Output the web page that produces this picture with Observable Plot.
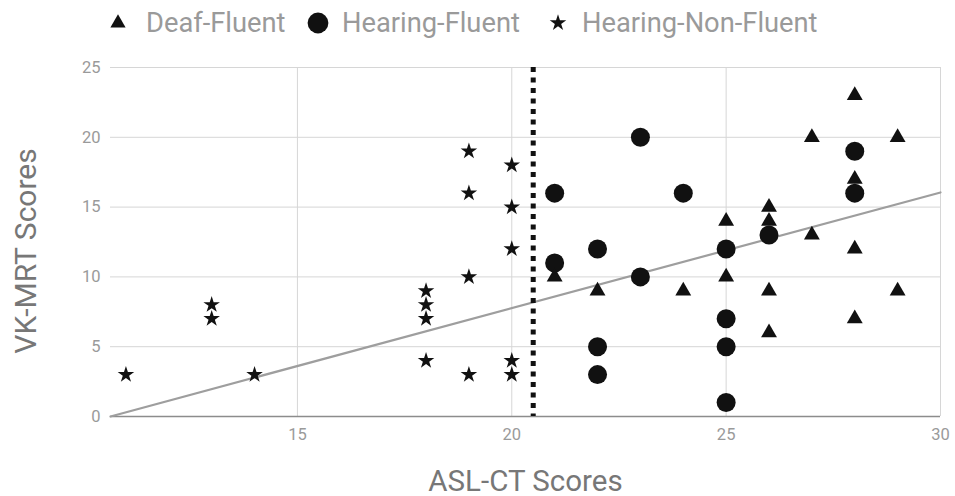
<!DOCTYPE html>
<html>
<head>
<meta charset="utf-8">
<script src="https://cdn.jsdelivr.net/npm/d3@7"></script>
<script src="https://cdn.jsdelivr.net/npm/@observablehq/plot@0.6"></script>
<style>
  html, body { margin: 0; padding: 0; background: #ffffff; }
  body { width: 955px; height: 496px; overflow: hidden; font-family: Roboto, "Noto Sans", sans-serif; }
  #legend { position: relative; height: 45px; width: 955px; }
  .item { position: absolute; top: 0; height: 45px; display: flex; align-items: center; }
  .item span { font-size: 27.3px; color: #9a9a9a; line-height: 1; }
  .sym { position: absolute; top: 0; }
</style>
</head>
<body>
<div id="legend"></div>
<div id="chart"></div>
<script>
// ---- Data ----
const seriesNames = ["Deaf-Fluent", "Hearing-Fluent", "Hearing-Non-Fluent"];

const deafFluentX = [21, 22, 24, 25, 25, 26, 26, 26, 26, 27, 27, 28, 28, 28, 28, 29, 29];
const deafFluentY = [10,  9,  9, 14, 10, 15, 14,  9,  6, 20, 13, 23, 17, 12,  7, 20,  9];

const hearingFluentX = [21, 21, 22, 22, 22, 23, 23, 24, 25, 25, 25, 25, 26, 28, 28];
const hearingFluentY = [16, 11, 12,  5,  3, 20, 10, 16, 12,  7,  5,  1, 13, 19, 16];

const hearingNonFluentX = [11, 13, 13, 14, 18, 18, 18, 18, 19, 19, 19, 19, 20, 20, 20, 20, 20];
const hearingNonFluentY = [ 3,  8,  7,  3,  9,  8,  7,  4, 19, 16, 10,  3, 18, 15, 12,  4,  3];

const trendX = [10.64, 30];
const trendY = [0, 16.05];

const cutoffX = [20.5];

const xTicks = [15, 20, 25, 30];
const yTicks = [0, 5, 10, 15, 20, 25];
const xDomain = [10.64, 30];
const yDomain = [0, 25];

const xTitle = "ASL-CT Scores";
const yTitle = "VK-MRT Scores";

// ---- Build tables ----
const toRows = (xs, ys) => xs.map((x, i) => ({x, y: ys[i]}));
const deaf = toRows(deafFluentX, deafFluentY);
const hearF = toRows(hearingFluentX, hearingFluentY);
const hearNF = toRows(hearingNonFluentX, hearingNonFluentY);
const trend = toRows(trendX, trendY);

const font = "Roboto, 'Noto Sans', sans-serif";

const chart = Plot.plot({
  width: 955,
  height: 451,
  marginTop: 22,
  marginBottom: 80,
  marginLeft: 110,
  marginRight: 15,
  style: {fontFamily: font, background: "#ffffff", overflow: "visible"},
  x: {domain: xDomain, ticks: xTicks},
  y: {domain: yDomain, ticks: yTicks},
  marks: [
    Plot.gridX(xTicks, {stroke: "#d6d6d6", strokeOpacity: 1, strokeWidth: 1}),
    Plot.gridY(yTicks.filter(d => d > 0), {stroke: "#d6d6d6", strokeOpacity: 1, strokeWidth: 1}),
    Plot.ruleY([0], {stroke: "#8c8c8c", strokeWidth: 1.5}),
    Plot.axisX(xTicks, {tickSize: 0, tickPadding: 12, fontSize: 16.5, fill: "#9a9a9a", label: null}),
    Plot.axisY(yTicks, {tickSize: 0, tickPadding: 10, fontSize: 16.5, fill: "#9a9a9a", label: null}),
    Plot.line(trend, {x: "x", y: "y", stroke: "#9e9e9e", strokeWidth: 2.2}),
    Plot.ruleX(cutoffX, {stroke: "#111", strokeWidth: 5, strokeDasharray: "5,5.5"}),
    Plot.dot(hearNF, {x: "x", y: "y", symbol: "star", r: 5.2, fill: "#111", stroke: "none"}),
    Plot.dot(hearF, {x: "x", y: "y", symbol: "circle", r: 9.5, fill: "#111", stroke: "none"}),
    Plot.dot(deaf, {x: "x", y: "y", symbol: "triangle", r: 5.9, fill: "#111", stroke: "none"}),
    Plot.text([xTitle], {frameAnchor: "bottom", lineAnchor: "middle", dy: 65, fontSize: 29.5, fill: "#777777", fontFamily: font}),
    Plot.text([yTitle], {frameAnchor: "left", textAnchor: "middle", lineAnchor: "middle", rotate: -90, dx: -84, dy: 9, fontSize: 30, fill: "#777777", fontFamily: font})
  ]
});
document.getElementById("chart").appendChild(chart);

// ---- Legend ----
const legend = d3.select("#legend");
const legendSymbols = ["triangle", "circle", "star"];
const symbolSizes = {triangle: 100, circle: 340, star: 85};
const symbolLeft = [118, 318, 558];
const textLeft = [146, 342, 582];
seriesNames.forEach((name, i) => {
  const s = legend.append("svg").attr("class", "sym")
    .attr("width", 30).attr("height", 45)
    .style("left", (symbolLeft[i] - 15) + "px");
  const sym = {triangle: d3.symbolTriangle, circle: d3.symbolCircle, star: d3.symbolStar}[legendSymbols[i]];
  s.append("path")
    .attr("d", d3.symbol(sym, symbolSizes[legendSymbols[i]])())
    .attr("transform", "translate(15,23)")
    .attr("fill", "#111");
  legend.append("div").attr("class", "item")
    .style("left", textLeft[i] + "px")
    .append("span").style("padding-top", "2px").text(name);
});
</script>
</body>
</html>
